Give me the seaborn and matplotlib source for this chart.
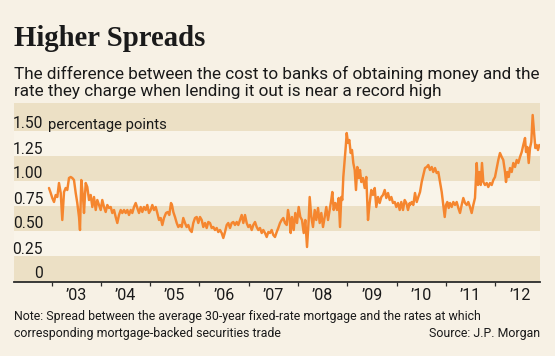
import numpy as np
import pandas as pd
import matplotlib
matplotlib.use("Agg")
import matplotlib.pyplot as plt
import matplotlib.transforms as mtransforms
import seaborn as sns

# ---------------- data ----------------
dates = [
    2002.949, 2002.984, 2003.016, 2003.051, 2003.085, 2003.118, 2003.152, 2003.187, 2003.219, 2003.254,
    2003.288, 2003.320, 2003.355, 2003.389, 2003.422, 2003.456, 2003.491, 2003.523, 2003.558, 2003.578,
    2003.604, 2003.639, 2003.659, 2003.694, 2003.726, 2003.761, 2003.795, 2003.828, 2003.862, 2003.897,
    2003.929, 2003.963, 2003.998, 2004.030, 2004.065, 2004.099, 2004.132, 2004.166, 2004.201, 2004.233,
    2004.268, 2004.302, 2004.335, 2004.369, 2004.404, 2004.436, 2004.471, 2004.505, 2004.538, 2004.572,
    2004.607, 2004.639, 2004.673, 2004.708, 2004.740, 2004.775, 2004.809, 2004.842, 2004.876, 2004.911,
    2004.943, 2004.977, 2005.012, 2005.045, 2005.079, 2005.114, 2005.146, 2005.181, 2005.215, 2005.248,
    2005.282,
    2005.323, 2005.357, 2005.389, 2005.424, 2005.444, 2005.471, 2005.505, 2005.540, 2005.572, 2005.606,
    2005.641, 2005.673, 2005.708, 2005.742, 2005.775, 2005.809, 2005.844, 2005.876, 2005.911, 2005.945,
    2005.978, 2006.012, 2006.047, 2006.079, 2006.114, 2006.148, 2006.181, 2006.215, 2006.250, 2006.282,
    2006.316, 2006.351, 2006.383, 2006.418, 2006.452, 2006.485, 2006.519, 2006.554, 2006.586, 2006.621,
    2006.655, 2006.688, 2006.722, 2006.757, 2006.789, 2006.824, 2006.858, 2006.891, 2006.925, 2006.959,
    2006.992, 2007.026, 2007.061, 2007.093, 2007.128, 2007.162, 2007.195, 2007.229, 2007.264, 2007.296,
    2007.331, 2007.365, 2007.398, 2007.432, 2007.466, 2007.499, 2007.533, 2007.568, 2007.600, 2007.635,
    2007.669, 2007.702, 2007.736, 2007.771,
    2007.797, 2007.832, 2007.852, 2007.878, 2007.913, 2007.945, 2007.980, 2008.014, 2008.047, 2008.081,
    2008.116, 2008.148, 2008.183, 2008.217, 2008.237, 2008.270, 2008.304, 2008.339, 2008.371, 2008.406,
    2008.440, 2008.473, 2008.507, 2008.542, 2008.574, 2008.609, 2008.643, 2008.675, 2008.696, 2008.724,
    2008.757, 2008.791, 2008.826, 2008.852, 2008.878, 2008.899, 2008.919, 2008.947, 2008.968, 2008.988,
    2009.014, 2009.041, 2009.069, 2009.095, 2009.122, 2009.150, 2009.176, 2009.203, 2009.231, 2009.258,
    2009.284, 2009.318, 2009.353, 2009.385, 2009.420, 2009.454, 2009.487, 2009.521, 2009.556, 2009.588,
    2009.623, 2009.657, 2009.690, 2009.724, 2009.759, 2009.791, 2009.826, 2009.860, 2009.893, 2009.927,
    2009.962, 2009.994, 2010.029, 2010.063, 2010.095, 2010.130, 2010.164, 2010.197, 2010.231, 2010.266,
    2010.272, 2010.306, 2010.339, 2010.373, 2010.408, 2010.440, 2010.475, 2010.509, 2010.542, 2010.576,
    2010.611, 2010.643, 2010.677, 2010.712, 2010.744, 2010.779, 2010.813, 2010.846, 2010.880, 2010.915,
    2010.947, 2010.976, 2011.002, 2011.028, 2011.057, 2011.083, 2011.118, 2011.150, 2011.185, 2011.219,
    2011.252, 2011.286, 2011.320, 2011.353, 2011.387, 2011.422, 2011.454, 2011.489, 2011.523, 2011.556,
    2011.590, 2011.625, 2011.651, 2011.678, 2011.706, 2011.732, 2011.759, 2011.793, 2011.828, 2011.860,
    2011.895, 2011.929, 2011.962, 2011.996, 2012.031, 2012.063, 2012.097, 2012.132, 2012.164, 2012.199,
    2012.219, 2012.245, 2012.274, 2012.300, 2012.335, 2012.367, 2012.402, 2012.436, 2012.469, 2012.503,
    2012.538, 2012.570, 2012.605, 2012.625, 2012.651, 2012.680, 2012.706, 2012.732, 2012.760, 2012.787,
    2012.814, 2012.842, 2012.868, 2012.894,
]
spread = [
    0.93, 0.88, 0.83, 0.79, 0.86, 0.84, 0.98, 0.88, 0.61, 0.89,
    0.93, 0.91, 1.03, 1.04, 1.03, 1.01, 0.88, 0.78, 0.64, 0.51,
    1.01, 0.84, 0.68, 0.98, 0.94, 0.81, 0.86, 0.74, 0.84, 0.71,
    0.81, 0.76, 0.71, 0.81, 0.74, 0.69, 0.76, 0.73, 0.74, 0.68,
    0.71, 0.64, 0.58, 0.66, 0.71, 0.68, 0.71, 0.68, 0.71, 0.66,
    0.71, 0.68, 0.74, 0.78, 0.73, 0.68, 0.74, 0.69, 0.74, 0.71,
    0.76, 0.68, 0.71, 0.76, 0.71, 0.74, 0.68, 0.61, 0.63, 0.56,
    0.63,
    0.68, 0.69, 0.66, 0.78, 0.76, 0.69, 0.64, 0.58, 0.54, 0.56,
    0.54, 0.63, 0.58, 0.54, 0.56, 0.51, 0.49, 0.58, 0.63, 0.64,
    0.58, 0.64, 0.61, 0.54, 0.58, 0.53, 0.59, 0.58, 0.53, 0.54,
    0.51, 0.53, 0.49, 0.51, 0.48, 0.43, 0.49, 0.56, 0.58, 0.53,
    0.58, 0.59, 0.56, 0.59, 0.56, 0.61, 0.66, 0.58, 0.66, 0.58,
    0.54, 0.56, 0.51, 0.56, 0.59, 0.54, 0.51, 0.53, 0.48, 0.51,
    0.48, 0.44, 0.49, 0.48, 0.51, 0.46, 0.44, 0.49, 0.53, 0.58,
    0.61, 0.63, 0.58, 0.56,
    0.71, 0.61, 0.48, 0.64, 0.51, 0.68, 0.58, 0.74, 0.64, 0.61,
    0.48, 0.61, 0.34, 0.61, 0.84, 0.64, 0.54, 0.71, 0.61, 0.73,
    0.58, 0.68, 0.54, 0.64, 0.74, 0.61, 0.71, 0.81, 0.89, 0.71,
    0.78, 0.71, 0.83, 0.54, 0.84, 0.81, 1.04, 1.21, 1.34, 1.48,
    1.38, 1.41, 1.28, 1.31, 1.18, 1.11, 0.91, 1.14, 1.03, 1.11,
    0.99, 1.03, 0.93, 1.04, 0.61, 0.78, 0.91, 0.86, 0.93, 0.74,
    0.84, 0.78, 0.84, 0.86, 0.91, 0.83, 0.88, 0.81, 0.84, 0.78,
    0.79, 0.74, 0.78, 0.71, 0.79, 0.71, 0.81, 0.78, 0.71, 0.78,
    0.76, 0.79, 0.76, 0.88, 0.79, 0.84, 0.89, 0.99, 1.06, 1.13,
    1.14, 1.16, 1.11, 1.14, 1.09, 1.13, 1.08, 1.09, 0.99, 0.89,
    0.76, 0.64, 0.76, 0.79, 0.73, 0.78, 0.74, 0.79, 0.76, 0.79,
    0.73, 0.68, 0.76, 0.83, 0.78, 0.76, 0.79, 0.74, 0.68, 0.76,
    0.83, 1.18, 0.96, 1.09, 0.96, 1.18, 0.99, 0.96, 0.98, 0.94,
    0.98, 0.96, 1.01, 1.04, 1.13, 1.21, 1.28, 1.24, 1.21, 1.09,
    0.99, 1.09, 1.04, 1.13, 1.09, 1.18, 1.14, 1.21, 1.18, 1.24,
    1.29, 1.36, 1.43, 1.29, 1.34, 1.18, 1.33, 1.39, 1.66, 1.49,
    1.33, 1.36, 1.31, 1.36,
]

y_ticks = [0, 0.25, 0.50, 0.75, 1.00, 1.25, 1.50]
y_tick_labels = ["0", "0.25", "0.50", "0.75", "1.00", "1.25", "1.50"]
unit_label = "percentage points"
x_years = list(range(2003, 2013))
x_tick_labels = ["\u2019%02d" % (y % 100) for y in x_years]

title = "Higher Spreads"
subtitle = ["The difference between the cost to banks of obtaining money and the",
            "rate they charge when lending it out is near a record high"]
note = ["Note: Spread between the average 30-year fixed-rate mortgage and the rates at which",
        "corresponding mortgage-backed securities trade"]
source = "Source: J.P. Morgan"

# ---------------- style ----------------
sns.set_style("white")
plt.rcParams['font.family'] = ['Roboto', 'DejaVu Sans']

BG = "#f7f1e5"
BAND_DARK = "#ece0c5"
BAND_LIGHT = "#f9f4e9"
LINE = "#f5862f"
TEXT = "#1a1a1a"
AXIS = "#2b2b2b"

W, H = 555, 356
fig = plt.figure(figsize=(W / 100, H / 100), dpi=100, facecolor=BG)


def fx(px):
    return px / W


def fy(py):
    return 1 - py / H


ax_left, ax_right, ax_top, ax_bottom = 14, 540, 103.3, 282
ax = fig.add_axes([fx(ax_left), fy(ax_bottom), fx(ax_right) - fx(ax_left), fy(ax_top) - fy(ax_bottom)])
ax.set_facecolor(BAND_LIGHT)
ylo = -0.01
yhi = (281 - ax_top) / 100
ax.set_ylim(ylo, yhi)
ax.set_xlim(2003 + (ax_left - 51.5) / 49.3, 2003 + (ax_right - 51.5) / 49.3)

for a, b in [(ylo, 0.25), (0.5, 0.75), (1.0, 1.25), (1.5, yhi)]:
    ax.axhspan(a, b, color=BAND_DARK, lw=0, zorder=0)

df = pd.DataFrame({"date": dates, "spread": spread})
sns.lineplot(data=df, x="date", y="spread", ax=ax, color=LINE, linewidth=1.75,
             estimator=None, zorder=3)
ax.set_xlabel("")
ax.set_ylabel("")

for s in ["top", "right", "left"]:
    ax.spines[s].set_visible(False)
ax.spines["bottom"].set_color(AXIS)
ax.spines["bottom"].set_linewidth(1.3)
ax.spines["bottom"].set_zorder(5)

# fitted font size for axis labels
probe = fig.text(0, 0, unit_label, fontsize=10)
fig.canvas.draw()
r = fig.canvas.get_renderer()
fs_tick = 10 * 119.7 / probe.get_window_extent(r).width
probe.remove()

ax.set_yticks([])
ax.set_xticks(x_years)
ax.set_xticklabels([])
ax.set_xticks([y + 0.5 for y in x_years], minor=True)
ax.set_xticklabels(x_tick_labels, minor=True)
ax.tick_params(axis="x", which="major", direction="out", length=3, width=0.9, color=AXIS, bottom=True)
ax.tick_params(axis="x", which="minor", length=0, pad=4.0, labelsize=fs_tick * 1.08, labelcolor=TEXT)

trans = mtransforms.blended_transform_factory(ax.transAxes, ax.transData)
off = trans + mtransforms.ScaledTranslation(0, 2.5 / 100, fig.dpi_scale_trans)
lab_x = (43 - ax_left) / (ax_right - ax_left)
for v, lab in zip(y_ticks, y_tick_labels):
    ax.text(lab_x, v, lab, transform=off, ha="right", va="baseline", fontsize=fs_tick * 1.05,
            color=TEXT, zorder=6)
ax.text((48.3 - ax_left) / (ax_right - ax_left), 1.5, unit_label, transform=off, ha="left",
        va="baseline", fontsize=fs_tick, color=TEXT, zorder=6)


def fit(t, width_px):
    for _ in range(2):
        fig.canvas.draw()
        w = t.get_window_extent(fig.canvas.get_renderer()).width
        t.set_fontsize(t.get_fontsize() * width_px / w)
    return t.get_fontsize()


t_title = fig.text(fx(13.5), fy(46), title, fontfamily="Liberation Serif", fontweight="bold",
                   fontsize=20, color=TEXT, va="baseline", ha="left")
fit(t_title, 191)

t_sub1 = fig.text(fx(13.5), fy(78.5), subtitle[0], fontsize=12, color=TEXT, va="baseline", ha="left")
fs_sub = fit(t_sub1, 528)
fig.text(fx(13.5), fy(96.3), subtitle[1], fontsize=fs_sub, color=TEXT, va="baseline", ha="left")

t_note1 = fig.text(fx(13.5), fy(320), note[0], fontsize=9, color=TEXT, va="baseline", ha="left")
fs_note = fit(t_note1, 467.5)
fig.text(fx(13.5), fy(336.5), note[1], fontsize=fs_note, color=TEXT, va="baseline", ha="left")
fig.text(fx(540.5), fy(336.5), source, fontsize=fs_note, color=TEXT, va="baseline", ha="right")

fig.savefig("out.png", dpi=100, facecolor=BG)
